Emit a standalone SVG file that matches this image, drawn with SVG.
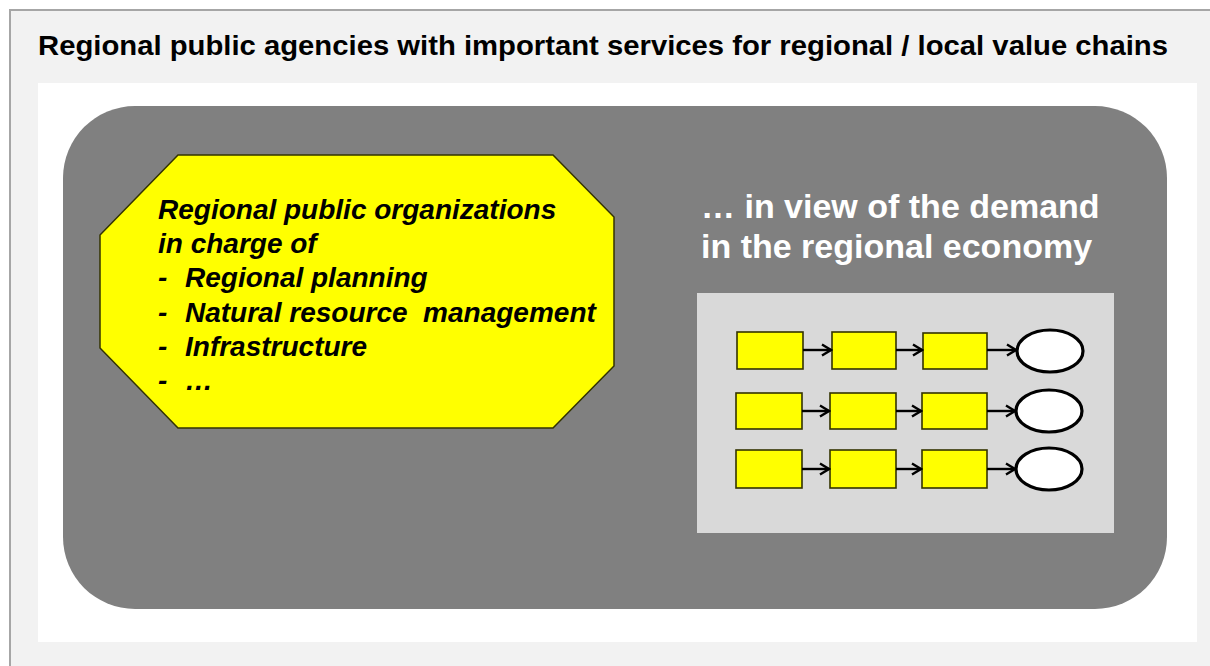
<svg xmlns="http://www.w3.org/2000/svg" width="1210" height="666" viewBox="0 0 1210 666">
<defs>
<style>
.title{font-family:"Liberation Sans",Arial,sans-serif;font-weight:bold;font-size:28px;fill:#000}
.oct{font-family:"Liberation Sans",Arial,sans-serif;font-weight:bold;font-style:italic;font-size:28px;fill:#000;white-space:pre}
.wt{font-family:"Liberation Sans",Arial,sans-serif;font-weight:bold;font-size:34px;fill:#fff}
.box{fill:#ffff00;stroke:#333300;stroke-width:1.6}
.end{fill:#fff;stroke:#000;stroke-width:3.2}
.arr{stroke:#000;stroke-width:2.4;fill:none;marker-end:url(#ah)}
</style>
<marker id="ah" viewBox="0 0 14 14" refX="12" refY="7" markerWidth="14" markerHeight="14" markerUnits="userSpaceOnUse" orient="auto">
<path d="M3,1.5 L12,7 L3,12.5" fill="none" stroke="#000" stroke-width="2.4"/>
</marker>
</defs>
<rect x="0" y="0" width="1210" height="666" fill="#fff"/>
<rect x="10" y="10" width="1200" height="656" fill="#f2f2f2"/>
<path d="M10,666 V10 H1210" fill="none" stroke="#a6a6a6" stroke-width="2"/>
<text class="title" x="38" y="55" textLength="1130" lengthAdjust="spacingAndGlyphs">Regional public agencies with important services for regional / local value chains</text>
<rect x="38" y="83" width="1159" height="559" fill="#fff"/>
<rect id="region" x="63" y="106" width="1104" height="503" rx="72" ry="72" fill="#808080"/>
<g id="agencies">
<polygon points="178,155 553,155 614,217 614,366 553,428 178,428 100,348 100,235" fill="#ffff00" stroke="#333300" stroke-width="1.5"/>
<text class="oct"><tspan x="158" y="219">Regional public organizations</tspan><tspan x="158" y="253">in charge of</tspan><tspan x="158" y="287">-</tspan><tspan x="185" y="287">Regional planning</tspan><tspan x="158" y="322">-</tspan><tspan x="185" y="322">Natural resource  management</tspan><tspan x="158" y="356">-</tspan><tspan x="185" y="356">Infrastructure</tspan><tspan x="158" y="390">-</tspan><tspan x="185" y="390">…</tspan></text>
</g>
<g id="demand-label">
<text class="wt"><tspan x="701" y="218">… in view of the demand</tspan><tspan x="701" y="258">in the regional economy</tspan></text>
</g>
<g id="economy">
<rect x="697" y="293" width="417" height="240" fill="#d9d9d9"/>
<g id="row1">
<rect class="box" x="737" y="332" width="66" height="37"/>
<rect class="box" x="832" y="332" width="64" height="37"/>
<rect class="box" x="923" y="333" width="64" height="36"/>
<ellipse class="end" cx="1050" cy="351" rx="33" ry="21"/>
</g>
<g id="row2">
<rect class="box" x="736" y="393" width="66" height="36"/>
<rect class="box" x="830" y="393" width="66" height="36"/>
<rect class="box" x="922" y="393" width="65" height="36"/>
<ellipse class="end" cx="1049" cy="411" rx="33" ry="21"/>
</g>
<g id="row3">
<rect class="box" x="736" y="450" width="66" height="38"/>
<rect class="box" x="830" y="450" width="66" height="38"/>
<rect class="box" x="922" y="450" width="65" height="38"/>
<ellipse class="end" cx="1049" cy="469" rx="33" ry="21"/>
</g>
</g>
<g id="connectors">
<line class="arr" x1="803" y1="350" x2="831" y2="350"/>
<line class="arr" x1="896" y1="350" x2="922" y2="350"/>
<line class="arr" x1="987" y1="350" x2="1016" y2="350"/>
<line class="arr" x1="802" y1="411" x2="829" y2="411"/>
<line class="arr" x1="896" y1="411" x2="921" y2="411"/>
<line class="arr" x1="987" y1="411" x2="1015" y2="411"/>
<line class="arr" x1="802" y1="469" x2="829" y2="469"/>
<line class="arr" x1="896" y1="469" x2="921" y2="469"/>
<line class="arr" x1="987" y1="469" x2="1015" y2="469"/>
</g>
</svg>
